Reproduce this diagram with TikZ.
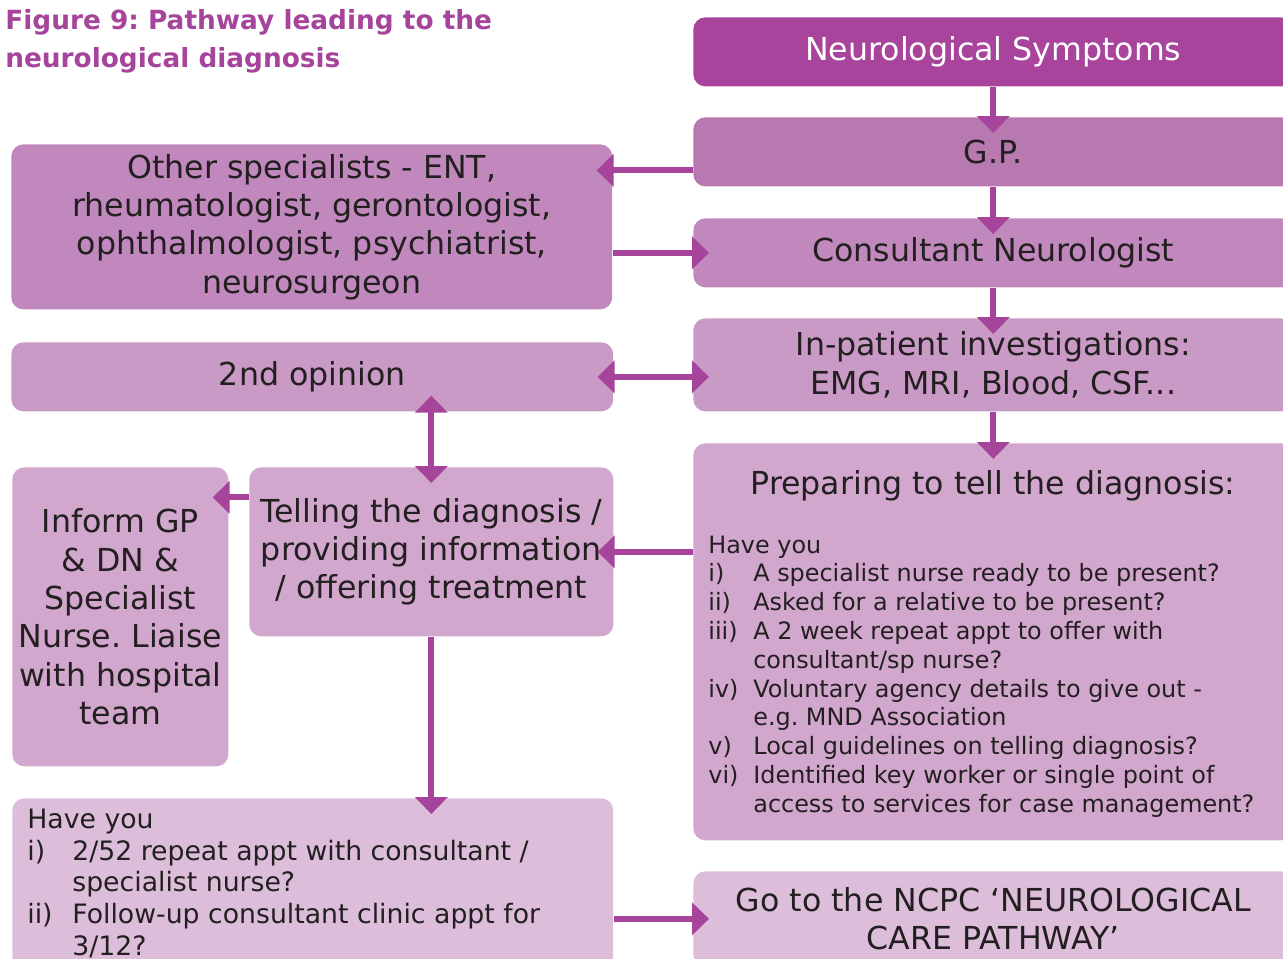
\documentclass[tikz,border=0pt]{standalone}
\usepackage{fontspec}
\setmainfont{DejaVu Sans}
\usetikzlibrary{arrows.meta}
\frenchspacing

\definecolor{plum}{RGB}{165,68,154}
\definecolor{inkc}{RGB}{35,31,32}
\definecolor{c1}{RGB}{168,68,155}
\definecolor{c2}{RGB}{184,120,176}
\definecolor{c3}{RGB}{192,136,188}
\definecolor{c4}{RGB}{201,154,198}
\definecolor{c5}{RGB}{210,167,206}
\definecolor{c6}{RGB}{220,190,219}

\tikzset{
  every node/.style={font=\fontsize{18}{21.8}\selectfont, text=inkc},
  stage/.style={rounded corners=0.24cm, anchor=north west, minimum width=12cm,
    minimum height=1.38cm, align=center, inner sep=0pt},
  checklist/.style={anchor=base west, inner sep=0pt, font=\fontsize{13.6}{16.4}\selectfont},
  flow/.style={-{Triangle[length=0.34cm,width=0.64cm]}, line width=0.12cm, plum,
    shorten >=-0.32cm},
  twoflow/.style={{Triangle[length=0.34cm,width=0.64cm]}-{Triangle[length=0.34cm,width=0.64cm]},
    line width=0.12cm, plum, shorten >=-0.32cm, shorten <=-0.32cm},
}

\begin{document}
\begin{tikzpicture}[x=0.02cm,y=-0.02cm]
  \useasboundingbox (0,0) rectangle (1283,958);
  \clip (0,0) rectangle (1283,958);

  % title
  \node[anchor=north west, inner sep=0pt, align=left, text=plum,
    font=\bfseries\fontsize{15}{21.6}\selectfont] (title) at (5,9)
    {Figure 9: Pathway leading to the\\neurological diagnosis};

  % right column
  \node[stage, fill=c1, text=white] (symp) at (693,17) {Neurological Symptoms};
  \node[stage, fill=c2] (gp) at (693,117) {G.P.};
  \node[stage, fill=c3] (cons) at (693,218) {Consultant Neurologist};
  \node[stage, fill=c4, minimum height=1.86cm] (inpat) at (693,318)
    {In-patient investigations:\\EMG, MRI, Blood, CSF...};
  \node[stage, fill=c5, minimum height=7.94cm] (prep) at (693,443) {};
  \node (prephead) at (993,486) {Preparing to tell the diagnosis:};
  \node[checklist] (preplist) at (708,553) {%
    \begin{tabular}[t]{@{}p{0.9cm}@{}l@{}}
      \multicolumn{2}{@{}l@{}}{Have you}\\
      i)   & A specialist nurse ready to be present?\\
      ii)  & Asked for a relative to be present?\\
      iii) & A 2 week repeat appt to offer with\\
           & consultant/sp nurse?\\
      iv)  & Voluntary agency details to give out -\\
           & e.g. MND Association\\
      v)   & Local guidelines on telling diagnosis?\\
      vi)  & Identified key worker or single point of\\
           & access to services for case management?
    \end{tabular}};
  \node[stage, fill=c6, minimum height=1.9cm] (ncpc) at (693,871)
    {Go to the NCPC ‘NEUROLOGICAL\\CARE PATHWAY’};

  % left column
  \node[stage, fill=c3, minimum width=12.02cm, minimum height=3.3cm] (other) at (11,144)
    {Other specialists - ENT,\\rheumatologist, gerontologist,\\ophthalmologist, psychiatrist,\\neurosurgeon};
  \node[stage, fill=c4, minimum width=12.04cm] (opin) at (11,342) {2nd opinion};
  \node[stage, fill=c5, minimum width=4.32cm, minimum height=5.98cm] (inform) at (12,467)
    {Inform GP\\\& DN \&\\Specialist\\Nurse. Liaise\\with hospital\\team};
  \node[stage, fill=c5, minimum width=7.28cm, minimum height=3.38cm] (tell) at (249,467)
    {Telling the diagnosis /\\providing information\\/ offering treatment};
  \node[stage, fill=c6, minimum width=12.02cm, minimum height=3.84cm] (check) at (12,798) {};
  \node[checklist, font=\fontsize{15.2}{18.2}\selectfont] (checkitems) at (27,828) {%
    \begin{tabular}[t]{@{}p{0.9cm}@{}l@{}}
      \multicolumn{2}{@{}l@{}}{Have you}\\
      i)  & 2/52 repeat appt with consultant /\\
          & specialist nurse?\\
      ii) & Follow-up consultant clinic appt for\\
          & 3/12?
    \end{tabular}};

  % connectors
  \draw[flow] (symp.south) -- (gp.north);
  \draw[flow] (gp.south) -- (cons.north);
  \draw[flow] (cons.south) -- (inpat.north);
  \draw[flow] (inpat.south) -- (prep.north);
  \draw[flow] ([yshift=-0.37cm]gp.west) -- ([yshift=-0.37cm]gp.west -| other.east);
  \draw[flow] (other.east |- cons.west) -- (cons.west);
  \draw[twoflow] (opin.east) -- (opin.east -| inpat.west);
  \draw[twoflow] (tell.north |- opin.south) -- (tell.north);
  \draw[flow] ([yshift=1.09cm]tell.west) -- ([yshift=1.09cm]tell.west -| inform.east);
  \draw[flow] (prep.west |- tell.east) -- (tell.east);
  \draw[flow] (tell.south) -- (tell.south |- check.north);
  \draw[flow] (check.east |- ncpc.west) -- (ncpc.west);
\end{tikzpicture}
\end{document}
